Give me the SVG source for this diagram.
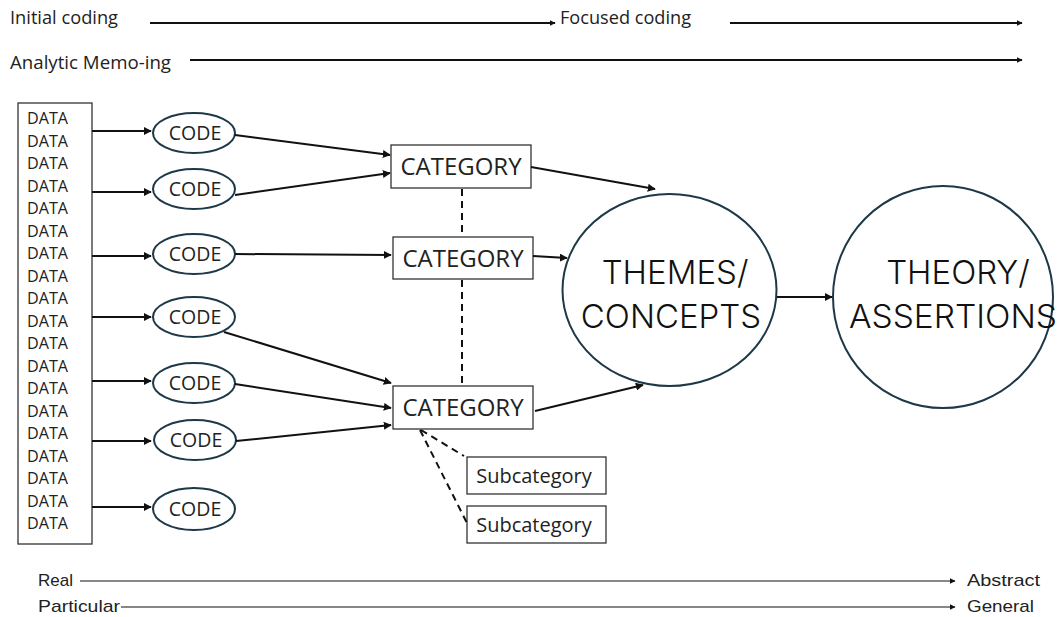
<svg xmlns="http://www.w3.org/2000/svg" width="1063" height="617" viewBox="0 0 1063 617">
<defs>
<marker id="ah" viewBox="0 0 10 10" refX="9" refY="5" markerWidth="6" markerHeight="6" markerUnits="userSpaceOnUse" orient="auto"><path d="M0,0 L10,5 L0,10 z" fill="#111"/></marker>
<marker id="ahs" viewBox="0 0 10 10" refX="9" refY="5" markerWidth="8" markerHeight="8" markerUnits="userSpaceOnUse" orient="auto"><path d="M0,0 L10,5 L0,10 z" fill="#111"/></marker>
<style>
text{font-family:"Open Sans","Liberation Sans",sans-serif;fill:#222}
.lbl{font-size:18px}
.data{font-size:16px}
.code{font-size:19.5px}
.cat{font-size:24px}
.sub{font-size:20px}
.big{font-family:"Inter","Liberation Sans",sans-serif;font-size:33px;font-weight:300;fill:#111}
.axis{font-family:"Liberation Sans",sans-serif;font-size:17px}
.ell{fill:#fff;stroke:#1d3847;stroke-width:2}
.box{fill:#fff;stroke:#333;stroke-width:1.3}
.ln{stroke:#111;stroke-width:2;fill:none}
.thin{stroke:#111;stroke-width:1.2;fill:none}
.dash{stroke:#111;stroke-width:2;stroke-dasharray:7,5;fill:none}
</style>
</defs>
<rect width="1063" height="617" fill="#fff"/>

<g id="top-labels">
<text class="lbl" x="10" y="24" textLength="108" lengthAdjust="spacingAndGlyphs">Initial coding</text>
<text class="lbl" x="560" y="24" textLength="131" lengthAdjust="spacingAndGlyphs">Focused coding</text>
<text class="lbl" x="10" y="69" textLength="161" lengthAdjust="spacingAndGlyphs">Analytic Memo-ing</text>
</g>

<g id="data">
<rect class="box" x="18" y="103" width="74" height="441"/>
<text class="data" x="27" y="124" textLength="41" lengthAdjust="spacingAndGlyphs">DATA</text>
<text class="data" x="27" y="146.5" textLength="41" lengthAdjust="spacingAndGlyphs">DATA</text>
<text class="data" x="27" y="169" textLength="41" lengthAdjust="spacingAndGlyphs">DATA</text>
<text class="data" x="27" y="191.5" textLength="41" lengthAdjust="spacingAndGlyphs">DATA</text>
<text class="data" x="27" y="214" textLength="41" lengthAdjust="spacingAndGlyphs">DATA</text>
<text class="data" x="27" y="236.5" textLength="41" lengthAdjust="spacingAndGlyphs">DATA</text>
<text class="data" x="27" y="259" textLength="41" lengthAdjust="spacingAndGlyphs">DATA</text>
<text class="data" x="27" y="281.5" textLength="41" lengthAdjust="spacingAndGlyphs">DATA</text>
<text class="data" x="27" y="304" textLength="41" lengthAdjust="spacingAndGlyphs">DATA</text>
<text class="data" x="27" y="326.5" textLength="41" lengthAdjust="spacingAndGlyphs">DATA</text>
<text class="data" x="27" y="349" textLength="41" lengthAdjust="spacingAndGlyphs">DATA</text>
<text class="data" x="27" y="371.5" textLength="41" lengthAdjust="spacingAndGlyphs">DATA</text>
<text class="data" x="27" y="394" textLength="41" lengthAdjust="spacingAndGlyphs">DATA</text>
<text class="data" x="27" y="416.5" textLength="41" lengthAdjust="spacingAndGlyphs">DATA</text>
<text class="data" x="27" y="439" textLength="41" lengthAdjust="spacingAndGlyphs">DATA</text>
<text class="data" x="27" y="461.5" textLength="41" lengthAdjust="spacingAndGlyphs">DATA</text>
<text class="data" x="27" y="484" textLength="41" lengthAdjust="spacingAndGlyphs">DATA</text>
<text class="data" x="27" y="506.5" textLength="41" lengthAdjust="spacingAndGlyphs">DATA</text>
<text class="data" x="27" y="529" textLength="41" lengthAdjust="spacingAndGlyphs">DATA</text>
</g>

<g id="code1"><ellipse class="ell" cx="194" cy="133" rx="41" ry="20"/><text class="code" x="195" y="140" text-anchor="middle">CODE</text></g>
<g id="code2"><ellipse class="ell" cx="194" cy="189" rx="41" ry="20"/><text class="code" x="195" y="196" text-anchor="middle">CODE</text></g>
<g id="code3"><ellipse class="ell" cx="194" cy="254" rx="41" ry="20"/><text class="code" x="195" y="261" text-anchor="middle">CODE</text></g>
<g id="code4"><ellipse class="ell" cx="194" cy="317" rx="41" ry="20"/><text class="code" x="195" y="324" text-anchor="middle">CODE</text></g>
<g id="code5"><ellipse class="ell" cx="194" cy="383" rx="41" ry="20"/><text class="code" x="195" y="390" text-anchor="middle">CODE</text></g>
<g id="code6"><ellipse class="ell" cx="195" cy="440" rx="41" ry="20"/><text class="code" x="196" y="447" text-anchor="middle">CODE</text></g>
<g id="code7"><ellipse class="ell" cx="194" cy="509" rx="41" ry="21"/><text class="code" x="195" y="516" text-anchor="middle">CODE</text></g>

<g id="cat1"><rect class="box" x="391" y="145" width="140" height="43"/><text class="cat" x="461" y="175" text-anchor="middle">CATEGORY</text></g>
<g id="cat2"><rect class="box" x="393" y="237" width="140" height="42"/><text class="cat" x="463" y="267" text-anchor="middle">CATEGORY</text></g>
<g id="cat3"><rect class="box" x="393" y="386" width="140" height="43"/><text class="cat" x="463" y="416" text-anchor="middle">CATEGORY</text></g>

<g id="sub1"><rect class="box" x="467" y="457" width="139" height="37"/><text class="sub" x="534" y="483" text-anchor="middle">Subcategory</text></g>
<g id="sub2"><rect class="box" x="467" y="506" width="139" height="37"/><text class="sub" x="534" y="532" text-anchor="middle">Subcategory</text></g>

<g id="themes"><ellipse class="ell" cx="669.5" cy="290" rx="107" ry="96"/>
<text class="big" x="675" y="284" text-anchor="middle">THEMES/</text>
<text class="big" x="671" y="328" text-anchor="middle">CONCEPTS</text></g>
<g id="theory"><ellipse class="ell" cx="943" cy="297" rx="110" ry="111"/>
<text class="big" x="958" y="284" text-anchor="middle">THEORY/</text>
<text class="big" x="953" y="328" text-anchor="middle" textLength="208" lengthAdjust="spacingAndGlyphs">ASSERTIONS</text></g>

<g id="axis-labels">
<text class="axis" x="38" y="586" textLength="35" lengthAdjust="spacingAndGlyphs">Real</text>
<text class="axis" x="967" y="586" textLength="73" lengthAdjust="spacingAndGlyphs">Abstract</text>
<text class="axis" x="38" y="612" textLength="82" lengthAdjust="spacingAndGlyphs">Particular</text>
<text class="axis" x="967" y="612" textLength="67" lengthAdjust="spacingAndGlyphs">General</text>
</g>

<g id="connectors">
<line class="ln" x1="150" y1="23" x2="555" y2="23" marker-end="url(#ah)"/>
<line class="ln" x1="730" y1="23" x2="1022" y2="23" marker-end="url(#ah)"/>
<line class="ln" x1="190" y1="60" x2="1022" y2="60" marker-end="url(#ah)"/>

<line class="ln" x1="92" y1="131" x2="151" y2="131" marker-end="url(#ahs)"/>
<line class="ln" x1="92" y1="192" x2="151" y2="192" marker-end="url(#ahs)"/>
<line class="ln" x1="92" y1="256" x2="151" y2="256" marker-end="url(#ahs)"/>
<line class="ln" x1="92" y1="317" x2="151" y2="317" marker-end="url(#ahs)"/>
<line class="ln" x1="92" y1="381" x2="151" y2="381" marker-end="url(#ahs)"/>
<line class="ln" x1="92" y1="441" x2="151" y2="441" marker-end="url(#ahs)"/>
<line class="ln" x1="92" y1="507" x2="151" y2="507" marker-end="url(#ahs)"/>

<line class="ln" x1="235" y1="135" x2="390" y2="155" marker-end="url(#ahs)"/>
<line class="ln" x1="235" y1="195" x2="390" y2="173" marker-end="url(#ahs)"/>
<line class="ln" x1="235" y1="254" x2="391" y2="255" marker-end="url(#ahs)"/>
<line class="ln" x1="224" y1="332" x2="391" y2="383" marker-end="url(#ahs)"/>
<line class="ln" x1="235" y1="384" x2="391" y2="408" marker-end="url(#ahs)"/>
<line class="ln" x1="236" y1="441" x2="391" y2="425" marker-end="url(#ahs)"/>

<line class="ln" x1="531" y1="167" x2="655" y2="189" marker-end="url(#ahs)"/>
<line class="ln" x1="533" y1="256" x2="567" y2="258" marker-end="url(#ahs)"/>
<line class="ln" x1="535" y1="411" x2="643" y2="385" marker-end="url(#ahs)"/>
<line class="ln" x1="777" y1="297" x2="832" y2="297" marker-end="url(#ahs)"/>

<line class="dash" x1="462" y1="189" x2="462" y2="237"/>
<line class="dash" x1="462" y1="280" x2="462" y2="386"/>
<line class="dash" x1="421" y1="430" x2="464" y2="456"/>
<line class="dash" x1="420" y1="430" x2="467" y2="523"/>

<line class="thin" x1="80" y1="581" x2="955" y2="581" marker-end="url(#ah)"/>
<line class="thin" x1="121" y1="607" x2="955" y2="607" marker-end="url(#ah)"/>
</g>
</svg>
